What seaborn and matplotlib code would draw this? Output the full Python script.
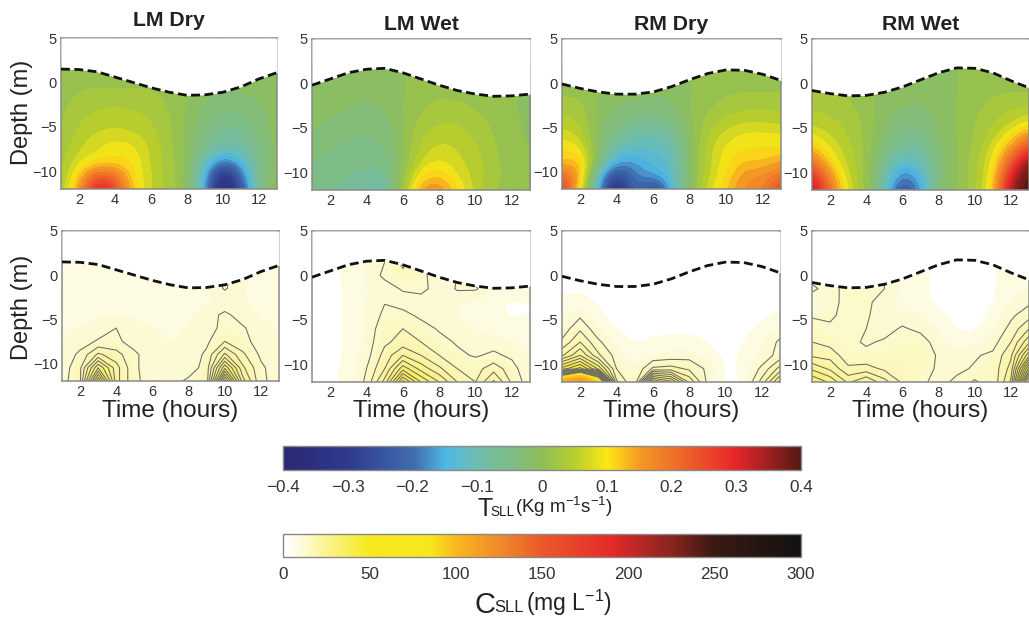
import numpy as np
import matplotlib
matplotlib.use("Agg")
import matplotlib.pyplot as plt
from matplotlib.colors import LinearSegmentedColormap, Normalize
from matplotlib.cm import ScalarMappable
import seaborn as sns

sns.set_theme(style="white")
plt.rcParams["font.family"] = ["Liberation Sans", "DejaVu Sans"]
plt.rcParams["mathtext.fontset"] = "custom"
plt.rcParams["mathtext.rm"] = "Liberation Sans"
plt.rcParams["mathtext.default"] = "rm"

hours = [1, 2, 3, 4, 5, 6, 7, 8, 9, 10, 11, 12, 13]
depths = [-12, -10.5, -9, -7.5, -6, -4.5, -3, -1.5, 0, 1.5]
titles = ["LM Dry", "LM Wet", "RM Dry", "RM Wet"]

surf_lm_dry = [1.5, 1.45, 1.2, 0.6, 0.0, -0.6, -1.1, -1.45, -1.4, -1.1, -0.5, 0.4, 1.1]
surf_lm_wet = [-0.2, 0.5, 1.2, 1.6, 1.7, 1.2, 0.5, -0.2, -0.8, -1.2, -1.45, -1.4, -1.2]
surf_rm_dry = [-0.1, -0.6, -1.0, -1.25, -1.25, -1.0, -0.4, 0.4, 1.1, 1.5, 1.45, 1.0, 0.3]
surf_rm_wet = [-0.8, -1.15, -1.4, -1.35, -1.0, -0.4, 0.4, 1.2, 1.75, 1.7, 1.2, 0.3, -0.5]

# Transport, rows run from the bed upward (same order as depths)
t_lm_dry = [
    [.03, .15, .33, .26, .11, .06, .03, 0, -.15, -.39, -.25, -.04, 0],
    [.03, .11, .24, .20, .105, .06, .03, 0, -.13, -.36, -.20, -.05, 0],
    [.025, .08, .10, .105, .10, .055, .03, 0, -.10, -.20, -.14, -.05, -.01],
    [.025, .06, .075, .10, .09, .055, .03, -.005, -.06, -.10, -.09, -.045, -.01],
    [.02, .05, .065, .07, .065, .05, .025, -.005, -.045, -.075, -.07, -.035, -.01],
    [.015, .04, .05, .055, .05, .04, .025, -.005, -.035, -.055, -.05, -.03, -.01],
    [.015, .03, .04, .045, .04, .035, .02, 0, -.025, -.04, -.035, -.025, -.01],
    [.01, .025, .025, .025, .025, .025, .015, 0, -.015, -.025, -.025, -.015, -.005],
    [0, .015, .015, .015, .015, .015, .005, 0, -.005, -.01, -.01, -.005, 0],
    [0, .015, .015, .015, .015, .015, .005, 0, -.005, -.01, -.01, -.005, 0],
]
t_lm_wet = [
    [-.05, -.06, -.07, -.085, -.10, .03, .16, .17, .10, .05, .02, .01, 0],
    [-.045, -.05, -.06, -.07, -.07, .01, .11, .125, .08, .05, .025, .01, 0],
    [-.04, -.05, -.05, -.055, -.055, 0, .07, .09, .065, .05, .025, .01, 0],
    [-.03, -.04, -.045, -.05, -.045, 0, .05, .07, .06, .045, .02, .01, 0],
    [-.02, -.03, -.04, -.04, -.035, 0, .04, .055, .05, .035, .02, .005, -.005],
    [-.015, -.025, -.03, -.03, -.03, 0, .03, .04, .04, .03, .015, .005, -.005],
    [-.01, -.015, -.02, -.025, -.02, 0, .02, .03, .03, .02, .01, 0, -.005],
    [-.005, -.01, -.015, -.02, -.015, 0, .01, .02, .015, .01, .005, 0, 0],
    [0, -.005, -.01, -.01, -.01, 0, .005, .01, .01, .005, 0, 0, 0],
    [0, -.005, -.01, -.01, -.01, 0, .005, .01, .01, .005, 0, 0, 0],
]
t_rm_dry = [
    [.29, .10, -.15, -.38, -.17, -.29, -.14, 0, .07, .12, .17, .17, .27],
    [.21, .16, -.13, -.28, -.18, -.16, -.13, -.02, .06, .10, .16, .16, .20],
    [.12, .14, -.03, -.17, -.16, -.135, -.12, -.015, .055, .095, .125, .12, .15],
    [.10, .095, -.02, -.10, -.125, -.12, -.10, -.01, .05, .09, .10, .10, .10],
    [.075, .06, -.015, -.06, -.09, -.10, -.08, -.01, .045, .07, .09, .09, .085],
    [.05, .04, -.01, -.04, -.055, -.06, -.05, -.005, .03, .05, .06, .06, .055],
    [.035, .03, -.005, -.025, -.03, -.035, -.03, 0, .02, .03, .04, .04, .035],
    [.02, .02, 0, -.015, -.015, -.02, -.02, 0, .01, .02, .025, .025, .025],
    [.005, .005, 0, -.01, -.01, -.01, -.01, 0, .005, .01, .01, .01, .01],
    [.005, .005, 0, -.01, -.01, -.01, -.01, 0, .005, .01, .01, .01, .01],
]
t_rm_wet = [
    [.35, .20, .07, .02, -.10, -.26, -.17, -.03, 0, .03, .10, .36, .40],
    [.30, .17, .06, .02, -.08, -.20, -.14, -.03, 0, .03, .09, .32, .40],
    [.22, .11, .05, .02, -.055, -.14, -.11, -.03, 0, .03, .08, .24, .38],
    [.14, .08, .05, .015, -.035, -.08, -.08, -.025, 0, .025, .07, .16, .28],
    [.09, .06, .04, .015, -.025, -.055, -.055, -.02, 0, .02, .05, .10, .18],
    [.055, .045, .035, .015, -.015, -.04, -.04, -.015, 0, .02, .04, .055, .09],
    [.04, .035, .03, .01, -.01, -.025, -.025, -.01, 0, .015, .03, .04, .045],
    [.025, .025, .02, .005, -.005, -.01, -.015, -.01, 0, .01, .02, .025, .025],
    [.01, .01, .01, 0, 0, -.005, -.01, -.005, 0, .005, .01, .01, .01],
    [.01, .01, .01, 0, 0, -.005, -.01, -.005, 0, .005, .01, .01, .01],
]

# Concentration
c_lm_dry = [
    [6, 12, 58, 20, 9, 6, 6, 9, 10, 65, 25, 9, 6],
    [5, 12, 38, 20, 9, 5, 5, 5.5, 10, 42, 19, 9, 5],
    [5, 9, 19, 15, 9, 5, 5, 5, 9, 24, 14, 7, 5],
    [4.5, 6, 8.5, 9, 6, 5, 5, 5, 7, 13, 9.5, 6, 5],
    [4.5, 5, 5.5, 8, 6, 5, 5, 5, 6, 9.5, 8.5, 5.5, 5],
    [4.5, 4.5, 4.5, 4.5, 4.5, 4.5, 4.5, 4.5, 6, 9, 6, 4.5, 4.5],
    [4, 4, 4, 4, 4, 4, 4, 4, 4.5, 5, 5, 4.5, 4],
    [4, 4, 4, 4, 4, 4, 4, 4, 4, 8.5, 5, 4, 4],
    [4, 4, 4, 4, 4, 4, 4, 4, 4, 9, 5, 4, 4],
    [4, 4, 4, 4, 4, 4, 4, 4, 4, 4, 4, 4, 4],
]
c_lm_wet = [
    [2, 2, 3, 9, 25, 55, 38, 28, 18, 13, 24, 12, 5],
    [2, 2, 3, 8, 18, 36, 26, 19, 13, 11, 16, 10, 4],
    [1.5, 1.5, 3, 6, 15, 23, 18, 13, 9, 7.5, 9, 7, 4],
    [1.5, 1.5, 3, 5.5, 12, 15, 13, 9.5, 7.5, 6, 6, 5, 4],
    [1.5, 1.5, 3, 5, 11, 13, 10, 7.5, 6, 5, 4, 3, 4],
    [1.5, 1.5, 3, 5, 9, 9.5, 7, 6, 5, 4, 3, 2, 2.5],
    [1.5, 1.5, 3, 5, 7.8, 6, 5, 5, 5, 4, 3, 2, 2.5],
    [1.5, 1.5, 3, 5, 6, 8.5, 10, 5, 8.5, 8.5, 5, 4, 4],
    [1.5, 2, 3, 5, 9, 12, 9, 6, 8, 6, 5, 4, 4],
    [1.5, 2, 3, 5, 8, 14, 9, 6, 6, 5, 5, 4, 4],
]
c_rm_dry = [
    [115, 155, 105, 14, 3, 55, 45, 22, 7, 1, 2, 15, 35],
    [40, 50, 32, 8, 3, 14, 15, 12, 7, 1.5, 3, 9, 20],
    [17, 28, 14, 6, 3, 4, 5, 6, 4, 1.5, 3, 5, 10],
    [9, 18, 9, 3.5, 2, 3, 3, 3.5, 2.5, 1, 2.5, 4, 9],
    [5, 12, 4.5, 2, 2, 2, 2, 2, 1.5, 1, 2, 3, 5],
    [4, 7, 3, 1.5, 1, 1, 1, 1, 1, 1, 1, 2, 3],
    [3, 3, 2, 1, 1, 1, 1, 1, 1, 1, 1, 1, 2],
    [2, 2.5, 2, 1, 1, 1, 1, 1, 1, 1, 1, 1, 1],
    [1, 1, 1, 1, 1, 1, 1, 1, 1, 1, 1, 1, 1],
    [1, 1, 1, 1, 1, 1, 1, 1, 1, 1, 1, 1, 1],
]
c_rm_wet = [
    [38, 32, 22, 28, 20, 12, 9, 6.5, 9, 14, 9, 24, 90],
    [27, 22, 14, 15, 12, 13, 11, 7, 7, 8.5, 9.5, 20, 65],
    [17, 16, 10, 9, 11, 12, 13, 7, 6, 7.5, 9, 17, 42],
    [13, 11, 9, 7.5, 8.5, 8.5, 10, 6, 3, 4, 6, 13, 27],
    [10, 8.5, 9, 8, 6.5, 8.5, 7, 5, 2, 2, 4, 9.5, 18],
    [7.5, 7.5, 9, 8.5, 6, 6, 5, 3, 1.5, 1.5, 3, 7, 11],
    [6.5, 7, 9, 9, 6, 4, 3, 2, 1.5, 1.5, 2, 5, 7],
    [8.5, 7, 9, 9.5, 8, 4, 3, 2, 1.5, 1.5, 2, 4, 5],
    [7, 7, 9, 9, 8, 4, 3, 2, 1.5, 1.5, 2, 4, 5],
    [7, 7, 9, 9, 8, 4, 3, 2, 1.5, 1.5, 2, 4, 5],
]

surfaces = [surf_lm_dry, surf_lm_wet, surf_rm_dry, surf_rm_wet]
t_fields = [t_lm_dry, t_lm_wet, t_rm_dry, t_rm_wet]
c_fields = [c_lm_dry, c_lm_wet, c_rm_dry, c_rm_wet]
contour_levels = [8, 13, 18, 23, 28, 33, 38, 43, 48, 53, 58, 63, 68, 73, 78]

t_stops = [(-.4, "#2a2872"), (-.3, "#2f3a8e"), (-.2, "#3f6cae"), (-.15, "#4fb8e4"),
           (-.1, "#6fbdb0"), (-.03, "#84bc76"), (0, "#8fbf58"), (.05, "#b6cd2e"),
           (.1, "#fde815"), (.15, "#f59c24"), (.2, "#ef7429"), (.3, "#e8262a"), (.4, "#561a14")]
c_stops = [(0, "#ffffff"), (3, "#fdfbdc"), (25, "#fbf38c"), (50, "#f5e91e"), (85, "#f8e71c"),
           (100, "#f9b81f"), (125, "#f08a2a"), (150, "#ea5a2a"), (190, "#e52a2a"),
           (225, "#8a241e"), (250, "#3a1a14"), (300, "#111111")]
c_bar_stops = [(0, "#ffffff"), (10, "#fefbe0"), (25, "#fbf38c"), (50, "#f5e91e"), (85, "#f8e71c"),
               (100, "#f9b81f"), (125, "#f08a2a"), (150, "#ea5a2a"), (190, "#e52a2a"),
               (225, "#8a241e"), (250, "#3a1a14"), (300, "#111111")]


def make_cmap(stops, n):
    lo, hi = stops[0][0], stops[-1][0]
    pairs = [((v - lo) / (hi - lo), col) for v, col in stops]
    return LinearSegmentedColormap.from_list("m", pairs, N=n)


W, H = 1029, 621
fig = plt.figure(figsize=(W / 100, H / 100), dpi=100, facecolor="white")


def px_axes(x0, y0, x1, y1):
    return fig.add_axes([x0 / W, 1 - y1 / H, (x1 - x0) / W, (y1 - y0) / H])


def style_axes(ax):
    ax.set_xlim(1, 13)
    ax.set_ylim(-12, 5)
    ax.set_xticks([2, 4, 6, 8, 10, 12])
    ax.set_yticks([-10, -5, 0, 5])
    ax.set_yticklabels(["\u221210", "\u22125", "0", "5"])
    ax.tick_params(direction="in", length=2, width=0.7, color="#666666", top=True, right=True,
                   bottom=True, left=True, labelsize=10.5, labelcolor="#333333", pad=3)
    for s in ax.spines.values():
        s.set_color("#8a8a8a")
        s.set_linewidth(1.1)
        s.set_visible(True)
    ax.set_xlabel("")
    ax.set_ylabel("")


def draw_surface(ax, surf):
    ax.fill_between(hours, surf, 5, color="white", zorder=3, lw=0)
    sns.lineplot(x=hours, y=surf, ax=ax, color="#111111", lw=2.0, zorder=5,
                 errorbar=None, legend=False, linestyle=(0, (3.2, 1.6)))


extent = [hours[0] - .5, hours[-1] + .5, depths[0] - .75, depths[-1] + .75]
top_boxes = [(61, 38, 277, 189), (312, 39, 530, 190), (562, 39, 781, 189), (812, 39, 1029, 190)]
low_boxes = [(62, 231, 279, 381), (312, 231, 530, 382), (562, 231, 780, 382), (812, 231, 1029, 382)]
t_band = make_cmap(t_stops, 40)
c_band = make_cmap(c_stops, 120)

for i in range(4):
    ax = px_axes(*top_boxes[i])
    ax.imshow(np.array(t_fields[i]), origin="lower", extent=extent, aspect="auto", cmap=t_band,
              vmin=-.4, vmax=.4, interpolation="bicubic", interpolation_stage="data", zorder=1)
    draw_surface(ax, surfaces[i])
    style_axes(ax)
    cx = (top_boxes[i][0] + top_boxes[i][2]) / 2
    fig.text(cx / W, 1 - [21, 24, 24, 24][i] / H, titles[i],
             ha="center", va="center", fontsize=15.3, fontweight="bold", color="#222222")

    ax = px_axes(*low_boxes[i])
    ax.imshow(np.array(c_fields[i]), origin="lower", extent=extent, aspect="auto", cmap=c_band,
              vmin=0, vmax=300, interpolation="bicubic", interpolation_stage="data", zorder=1)
    ax.contour(hours, depths, np.array(c_fields[i]), levels=contour_levels, colors="#6a6a6a",
               linewidths=0.75, zorder=2)
    draw_surface(ax, surfaces[i])
    style_axes(ax)
    cx = (low_boxes[i][0] + low_boxes[i][2]) / 2
    fig.text(cx / W, 1 - 411 / H, "Time (hours)", ha="center", va="center", fontsize=17.5, color="#222222")

for y, txt in [(112, "Depth (m)"), (307, "Depth (m)")]:
    fig.text(22 / W, 1 - y / H, txt, rotation=90, ha="center", va="center", fontsize=17, color="#222222")


def colorbar(box, stops, ticks, labels):
    cax = px_axes(*box)
    mapp = ScalarMappable(norm=Normalize(stops[0][0], stops[-1][0]), cmap=make_cmap(stops, 256))
    cb = fig.colorbar(mapp, cax=cax, orientation="horizontal", ticks=ticks)
    cb.ax.set_xticklabels(labels)
    cb.ax.tick_params(direction="in", length=3, width=0.6, color="#333333", top=True, bottom=True,
                      labelsize=12.3, labelcolor="#333333", pad=7)
    cb.outline.set_edgecolor("#888888")
    cb.outline.set_linewidth(1.0)


colorbar((283, 446, 801, 470), t_stops, [-.4, -.3, -.2, -.1, 0, .1, .2, .3, .4],
         ["\u22120.4", "\u22120.3", "\u22120.2", "\u22120.1", "0", "0.1", "0.2", "0.3", "0.4"])
colorbar((283, 534, 801, 557), c_bar_stops, [0, 50, 100, 150, 200, 250, 300],
         ["0", "50", "100", "150", "200", "250", "300"])

fig.text(477 / W, 1 - 509 / H, "T", fontsize=18, ha="left", va="center", color="#222222")
fig.text(490 / W, 1 - 512 / H, "SLL", fontsize=9.8, ha="left", va="center", color="#222222")
fig.text(515 / W, 1 - 507 / H, "(Kg m$^{-1}$s$^{-1}$)", fontsize=13.5, ha="left", va="center", color="#222222")
fig.text(475 / W, 1 - 605 / H, "C", fontsize=21, ha="left", va="center", color="#222222")
fig.text(494 / W, 1 - 608 / H, "SLL", fontsize=12, ha="left", va="center", color="#222222")
fig.text(526 / W, 1 - 603 / H, "(mg L$^{-1}$)", fontsize=16.5, ha="left", va="center", color="#222222")

fig.savefig("out.png", dpi=100, facecolor="white")
